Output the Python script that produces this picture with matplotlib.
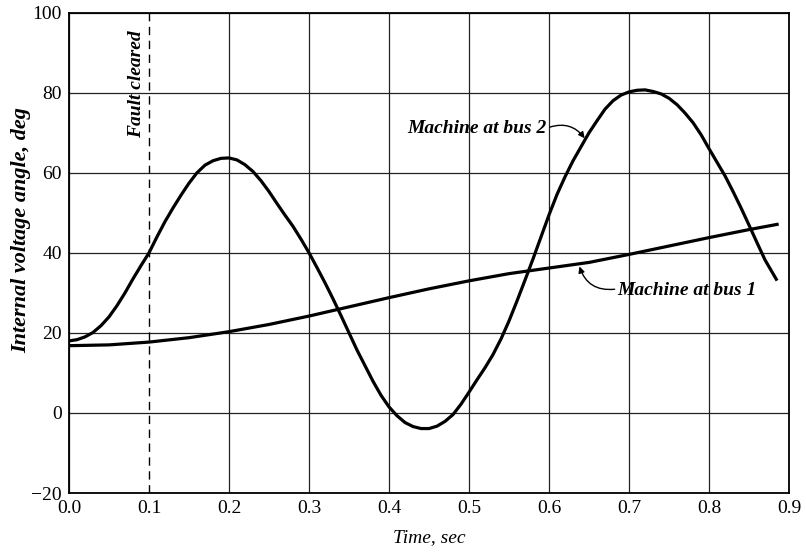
"""Internal voltage angles of two machines after fault clearing."""

import matplotlib.pyplot as plt

# Machine at bus 2 (swinging curve)
t_bus2 = [0.0, 0.01, 0.02, 0.03, 0.04, 0.05, 0.06, 0.07, 0.08, 0.09,
          0.1, 0.11, 0.12, 0.13, 0.14, 0.15, 0.16, 0.17, 0.18, 0.19,
          0.2, 0.21, 0.22, 0.23, 0.24, 0.25, 0.26, 0.27, 0.28, 0.29,
          0.3, 0.31, 0.32, 0.33, 0.34, 0.35, 0.36, 0.37, 0.38, 0.39,
          0.4, 0.41, 0.42, 0.43, 0.44, 0.45, 0.46, 0.47, 0.48, 0.49,
          0.5, 0.51, 0.52, 0.53, 0.54, 0.55, 0.56, 0.57, 0.58, 0.59,
          0.6, 0.61, 0.62, 0.63, 0.64, 0.65, 0.66, 0.67, 0.68, 0.69,
          0.7, 0.71, 0.72, 0.73, 0.74, 0.75, 0.76, 0.77, 0.78, 0.79,
          0.8, 0.81, 0.82, 0.83, 0.84, 0.85, 0.86, 0.87, 0.884]
angle_bus2 = [18.0, 18.3, 19.0, 20.1, 21.8, 24.0, 26.8, 30.0, 33.5, 36.8,
              40.0, 44.0, 47.8, 51.2, 54.4, 57.4, 60.0, 61.9, 63.0, 63.6,
              63.7, 63.2, 62.0, 60.3, 58.0, 55.3, 52.3, 49.4, 46.6, 43.4,
              40.0, 36.3, 32.5, 28.5, 24.3, 20.0, 15.7, 11.8, 7.9, 4.4,
              1.5, -0.7, -2.4, -3.4, -3.9, -3.9, -3.3, -2.1, -0.4, 2.2,
              5.2, 8.3, 11.3, 14.6, 18.5, 23.0, 28.0, 33.2, 38.5, 44.0,
              49.5, 54.6, 59.0, 63.0, 66.5, 70.0, 73.0, 75.9, 78.0, 79.4,
              80.2, 80.6, 80.7, 80.3, 79.7, 78.6, 77.0, 74.9, 72.5, 69.5,
              66.0, 62.6, 59.2, 55.3, 51.2, 46.9, 42.5, 38.2, 33.4]

# Machine at bus 1 (slowly rising curve)
t_bus1 = [0.0, 0.05, 0.1, 0.15, 0.2, 0.25, 0.3, 0.35, 0.4, 0.45,
          0.5, 0.55, 0.6, 0.65, 0.7, 0.75, 0.8, 0.85, 0.885]
angle_bus1 = [16.8, 17.0, 17.7, 18.8, 20.3, 22.1, 24.2, 26.5, 28.8, 31.0,
              33.0, 34.8, 36.2, 37.6, 39.6, 41.7, 43.8, 45.8, 47.1]

x_ticks = [0.0, 0.1, 0.2, 0.3, 0.4, 0.5, 0.6, 0.7, 0.8, 0.9]
y_ticks = [-20, 0, 20, 40, 60, 80, 100]
t_fault_cleared = 0.1

SERIF = ["Liberation Serif", "DejaVu Serif"]


def main() -> None:
    plt.rcParams["font.family"] = SERIF
    fig = plt.figure(figsize=(8.06, 5.56), dpi=100)
    ax = fig.add_axes([0.0856, 0.1133, 0.8934, 0.8640])

    ax.set_xlim(0.0, 0.9)
    ax.set_ylim(-20, 100)
    ax.set_xticks(x_ticks)
    ax.set_yticks(y_ticks)
    ax.set_xticklabels([f"{v:.1f}" for v in x_ticks])
    ax.set_yticklabels(["\u221220" if v < 0 else str(v) for v in y_ticks])
    ax.tick_params(length=0, labelsize=14, pad=5)
    ax.grid(True, color="#222222", linewidth=0.9)
    # the fault-clearing line replaces the grid line at t = 0.1
    for line, tick in zip(ax.get_xgridlines(), x_ticks):
        if abs(tick - t_fault_cleared) < 1e-9:
            line.set_visible(False)
    for spine in ax.spines.values():
        spine.set_linewidth(1.3)

    ax.axvline(t_fault_cleared, color="black", linewidth=1.0,
               linestyle=(0, (6, 4)), zorder=3)
    ax.text(0.084, 82, "Fault cleared", rotation=90, ha="center", va="center",
            fontsize=14, style="italic", fontweight="bold")

    ax.plot(t_bus2, angle_bus2, color="black", linewidth=2.3, zorder=4)
    ax.plot(t_bus1, angle_bus1, color="black", linewidth=2.3, zorder=4)

    label_kw = dict(fontsize=14, style="italic", fontweight="bold",
                    va="center")
    arrow = dict(arrowstyle="-|>", color="black", linewidth=1.0,
                 mutation_scale=9, shrinkA=0, shrinkB=0)

    ax.text(0.597, 71.0, "Machine at bus 2", ha="right", **label_kw)
    ax.annotate("", xy=(0.6445, 68.6), xytext=(0.601, 71.4),
                arrowprops=dict(arrow, connectionstyle="arc3,rad=-0.35"))

    ax.text(0.685, 30.5, "Machine at bus 1", ha="left", **label_kw)
    ax.annotate("", xy=(0.638, 36.6), xytext=(0.682, 30.9),
                arrowprops=dict(arrow, connectionstyle="arc3,rad=-0.4"))

    ax.set_xlabel("Time, sec", fontsize=14, style="italic", labelpad=9)
    ax.set_ylabel("Internal voltage angle, deg", fontsize=16, style="italic",
                  fontweight="bold")
    ax.yaxis.set_label_coords(-0.052, 0.548)

    fig.savefig("out.png", dpi=100)
    plt.close(fig)


if __name__ == "__main__":
    main()
